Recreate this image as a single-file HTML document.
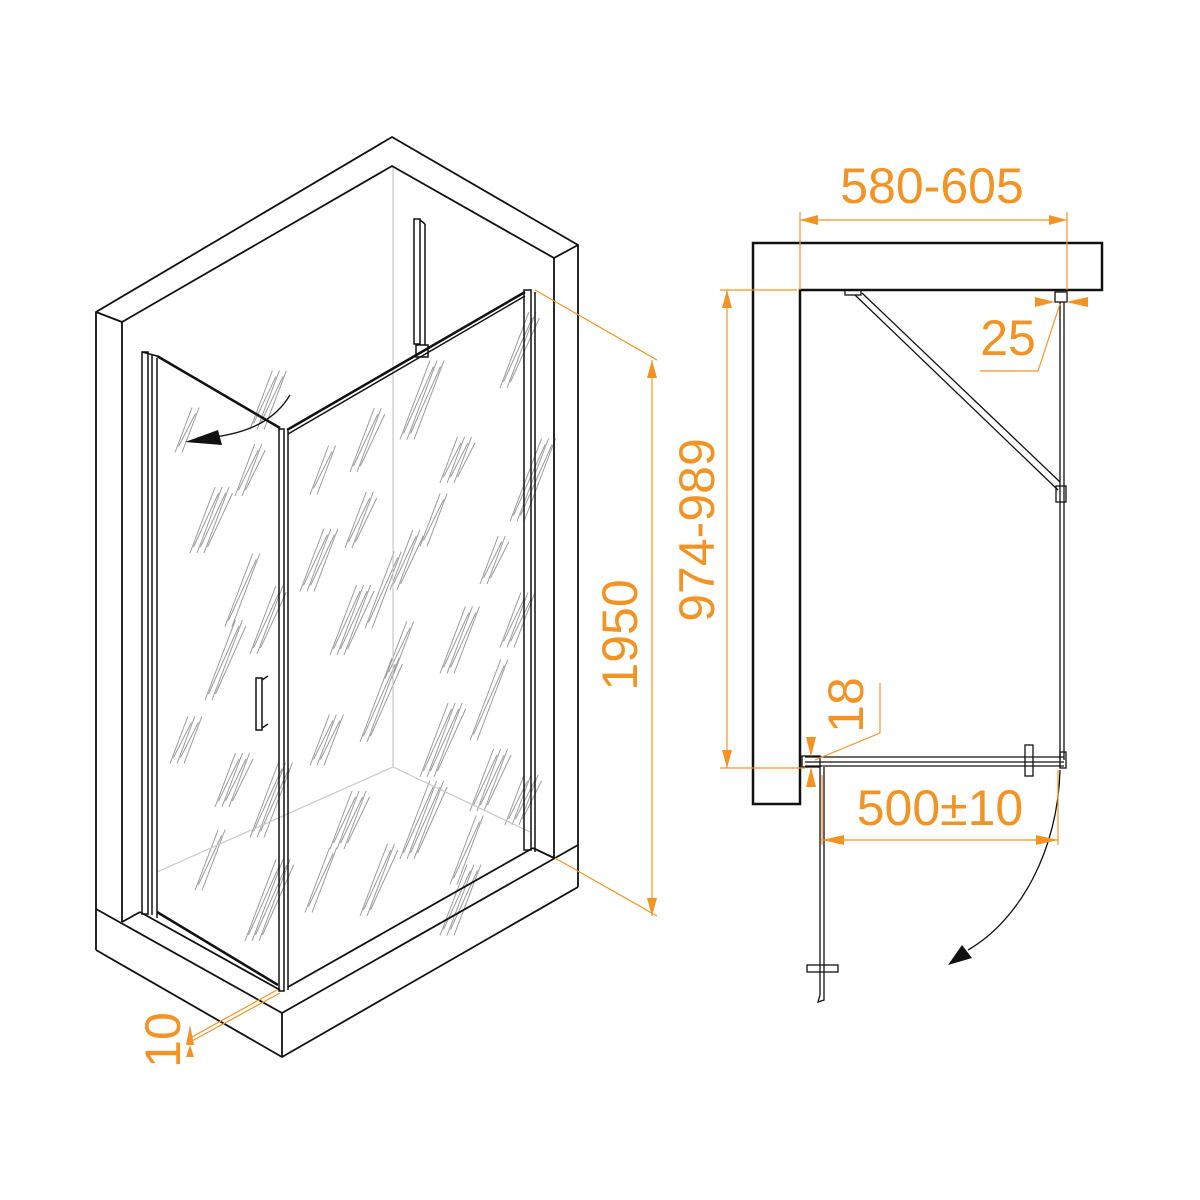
<!DOCTYPE html>
<html><head><meta charset="utf-8"><style>
html,body{margin:0;padding:0;background:#fff;}
svg{display:block;}
text{font-family:"Liberation Sans",sans-serif;fill:#f39323;}
</style></head><body>
<svg id="s" width="1200" height="1200" viewBox="0 0 1200 1200" xmlns="http://www.w3.org/2000/svg">
<g id="hatch" stroke="#9a9a9a" stroke-width="1" fill="none"></g>
<g stroke="#c8c8c8" stroke-width="1.2" fill="none">
<line x1="393" y1="166" x2="393" y2="767"/>
<polyline points="157,872 393,767 530,832"/>
</g>
<g stroke="#111" stroke-width="1.8" fill="none" stroke-linejoin="miter">
<polyline points="96,950 96,312 392,137 578,245 578,887"/>
<polyline points="122,922 122,322 392,166 554,258 554,858"/>
<line x1="96" y1="312" x2="122" y2="322"/>
<line x1="578" y1="245" x2="554" y2="258"/>
<polyline points="96,909 282,1013 578,845"/>
<polyline points="96,950 282,1057 578,887"/>
<line x1="282" y1="1013" x2="282" y2="1057"/>
<line x1="122" y1="922" x2="140" y2="912"/>
<line x1="140" y1="912" x2="280" y2="990"/>
<line x1="288" y1="987" x2="533" y2="848"/>
<line x1="533" y1="848" x2="554" y2="858"/>
</g>
<g stroke="#111" stroke-width="1.5" fill="none">
<rect x="142" y="352" width="6" height="562"/>
<line x1="152" y1="355" x2="152" y2="915"/>
<line x1="157" y1="358" x2="157" y2="918"/>
<line x1="142" y1="352" x2="157" y2="356"/>
<line x1="157" y1="356" x2="280" y2="428" stroke-width="2.5"/>
<line x1="157" y1="912" x2="278" y2="985" stroke-width="2.5"/>
<rect x="279" y="429" width="5" height="562"/>
<line x1="288" y1="429" x2="288" y2="990"/>
<line x1="287" y1="430" x2="525" y2="292" stroke-width="2.5"/>
<line x1="288" y1="434" x2="525" y2="296"/>
<rect x="524" y="290" width="7" height="560"/>
<line x1="535" y1="292" x2="535" y2="852"/>
<rect x="414" y="219" width="6" height="125"/>
<line x1="420" y1="220" x2="425" y2="224"/>
<line x1="425" y1="224" x2="425" y2="345"/>
<rect x="416" y="345" width="12" height="12"/>
<rect x="256" y="678" width="6" height="52"/>
<line x1="262" y1="680" x2="268" y2="676"/>
<line x1="262" y1="728" x2="268" y2="724"/>
</g>
<path d="M290,395 C275,420 250,432 215,437" stroke="#111" stroke-width="1.3" fill="none"/>
<polygon points="185,442 218,430 222,445" fill="#111"/>

<g stroke="#111" stroke-width="2.5" fill="none">
<polygon points="753,243 1102,243 1102,290 800,290 800,804 753,804"/>
</g>
<g stroke="#111" stroke-width="1.3" fill="none">
<rect x="845" y="290" width="16" height="5"/>
<line x1="855" y1="295" x2="1058" y2="490"/>
<line x1="862" y1="293" x2="1060" y2="482"/>
<rect x="1056" y="486" width="10" height="16"/>
<line x1="1060" y1="302" x2="1060" y2="760"/>
<line x1="1064" y1="302" x2="1064" y2="760"/>
<rect x="1055" y="292" width="12" height="10"/>
<line x1="805" y1="757" x2="1064" y2="757"/>
<line x1="805" y1="762" x2="1064" y2="762"/>
<line x1="805" y1="766" x2="1064" y2="766"/>
<rect x="802" y="756" width="18" height="11"/>
<rect x="1025" y="745" width="8" height="31"/>
<rect x="1060" y="752" width="6" height="16"/>
<line x1="820" y1="767" x2="820" y2="995"/>
<line x1="824" y1="767" x2="824" y2="995"/>
<rect x="807" y="965" width="31" height="7"/>
<path d="M820,995 L818,1002 L824,1000 L824,995"/>
</g>
<path d="M1060,770 C1058,850 1020,920 968,950" stroke="#111" stroke-width="1.3" fill="none"/>
<polygon points="948,965 962,945 972,958" fill="#111"/>

<g stroke="#f39323" stroke-width="1.2" fill="none">
<line x1="535" y1="290" x2="657" y2="360"/>
<line x1="555" y1="858" x2="657" y2="916"/>
<line x1="652" y1="360" x2="652" y2="916"/>
<line x1="720" y1="290" x2="797" y2="290"/>
<line x1="720" y1="768" x2="805" y2="768"/>
<line x1="727" y1="290" x2="727" y2="768"/>
<line x1="800" y1="212" x2="800" y2="290"/>
<line x1="1067" y1="212" x2="1067" y2="290"/>
<line x1="800" y1="220" x2="1067" y2="220"/>
<line x1="1060" y1="304" x2="1038" y2="371"/>
<line x1="1038" y1="371" x2="980" y2="371"/>
<line x1="815" y1="760" x2="880" y2="733"/>
<line x1="880" y1="733" x2="880" y2="683"/>
<line x1="822" y1="775" x2="822" y2="845"/>
<line x1="1058" y1="770" x2="1058" y2="845"/>
<line x1="822" y1="840" x2="1058" y2="840"/>
<line x1="277" y1="990" x2="190" y2="1038"/>
<line x1="280" y1="993" x2="190" y2="1042"/>
</g>
<g fill="#f39323">
<polygon points="652,360 647,378 657,378"/>
<polygon points="652,916 647,898 657,898"/>
<polygon points="727,290 722,308 732,308"/>
<polygon points="727,768 722,750 732,750"/>
<polygon points="800,220 818,215 818,225"/>
<polygon points="1067,220 1049,215 1049,225"/>
<polygon points="1055,302 1035,297 1035,307"/>
<polygon points="1066,302 1088,297 1088,307"/>
<polygon points="811,757 806,737 816,737"/>
<polygon points="811,767 806,787 816,787"/>
<polygon points="822,840 844,835 844,845"/>
<polygon points="1058,840 1036,835 1036,845"/>
<polygon points="190,1025 186,1045 194,1045"/>
<polygon points="190,1045 186,1057 194,1057"/>
</g>
<g font-size="50">
<text x="932" y="203" text-anchor="middle">580-605</text>
<text x="1008" y="355" text-anchor="middle">25</text>
<text x="940" y="825" text-anchor="middle">500±10</text>
<text transform="translate(637,635) rotate(-90)" text-anchor="middle">1950</text>
<text transform="translate(714,530) rotate(-90)" text-anchor="middle">974-989</text>
<text transform="translate(863,705) rotate(-90)" text-anchor="middle">18</text>
<text transform="translate(180,1040) rotate(-90)" text-anchor="middle">10</text>
</g>
</svg>
<script>
var g=document.getElementById('hatch');
var c=[[175,430],[235,470],[250,400],[190,520],[225,590],[205,660],[170,740],[215,780],[195,860],[250,620],[250,800],[245,900],
[310,470],[345,520],[300,560],[330,620],[365,590],[360,700],[310,740],[330,820],[305,880],[360,880],[400,400],[440,460],[420,520],[390,560],[440,640],[420,740],[470,700],[480,560],[500,620],[470,780],[450,850],[500,350],[510,480],[505,800],[385,650],[350,440],[440,900],[400,820]];
var ns='http://www.w3.org/2000/svg';
c.forEach(function(p,i){var n=3+(i%4);var L=45+(i*7)%40;for(var k=0;k<n;k++){var l=document.createElementNS(ns,'line');var dx=k*3.5;var off=(k%2)*6;l.setAttribute('x1',p[0]+dx);l.setAttribute('y1',p[1]+L/2-off);l.setAttribute('x2',p[0]+dx+L*0.38);l.setAttribute('y2',p[1]-L/2+off);g.appendChild(l);}});
</script>
</body></html>
